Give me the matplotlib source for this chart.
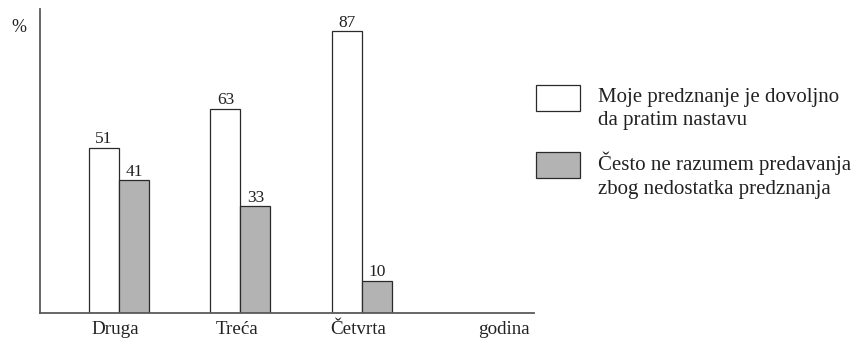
import numpy as np
import matplotlib
matplotlib.use('Agg')
import matplotlib.pyplot as plt
from matplotlib.patches import Rectangle

# ---- data ----
categories = ['Druga', 'Treća', 'Četvrta']
axis_word = 'godina'
series_names = ['Moje predznanje je dovoljno\nda pratim nastavu',
                'Često ne razumem predavanja\nzbog nedostatka predznanja']
values_know = [51, 63, 87]
values_struggle = [41, 33, 10]
unit_label = '%'

# ---- style ----
colors = ['white', '#b3b3b3']
edge = '#2a2a2a'
spine_col = '#5a5a5a'
plt.rcParams['font.family'] = ['Liberation Serif', 'DejaVu Serif']

W, H = 860, 339
fig = plt.figure(figsize=(W / 100, H / 100), dpi=100)
ax = fig.add_axes([40 / W, 1 - 313 / H, (534 - 40) / W, (313 - 9) / H])

x = np.arange(len(categories))
width = 30 / 121.5
b1 = ax.bar(x - width / 2, values_know, width, color=colors[0], edgecolor=edge, linewidth=0.9)
b2 = ax.bar(x + width / 2, values_struggle, width, color=colors[1], edgecolor=edge, linewidth=0.9)

for bars, vals in ((b1, values_know), (b2, values_struggle)):
    for rect, v in zip(bars, vals):
        ax.annotate(str(v), (rect.get_x() + rect.get_width() / 2, v),
                    xytext=(0, 3.2), textcoords='offset points',
                    ha='center', va='baseline', fontsize=12.5, color='#222222')

ax.set_xlim(-0.650, 3.416)
ax.set_ylim(0, 93.8)
ax.set_xticks(list(x - 0.03) + [3.169])
ax.set_xticklabels(categories + [axis_word], fontsize=13.7, color='#222222')
ax.tick_params(axis='x', length=0, pad=6)
ax.set_yticks([])
for s in ('top', 'right'):
    ax.spines[s].set_visible(False)
for s in ('left', 'bottom'):
    ax.spines[s].set_color(spine_col)
    ax.spines[s].set_linewidth(1.3)

fig.text(11 / W, 1 - 32 / H, unit_label, fontsize=13, color='#222222', va='baseline', ha='left')

# ---- legend (manual) ----
patch_y = [(85, 111), (152, 178)]
line_baselines = [(102, 125), (170, 194)]
for i, name in enumerate(series_names):
    y0, y1 = patch_y[i]
    fig.add_artist(Rectangle((536 / W, 1 - y1 / H), 44 / W, (y1 - y0) / H,
                             transform=fig.transFigure, facecolor=colors[i],
                             edgecolor=edge, linewidth=0.9))
    for line, bl in zip(name.split('\n'), line_baselines[i]):
        fig.text(598 / W, 1 - bl / H, line, fontsize=15, color='#222222',
                 ha='left', va='baseline')

fig.savefig('out.png', dpi=100)
